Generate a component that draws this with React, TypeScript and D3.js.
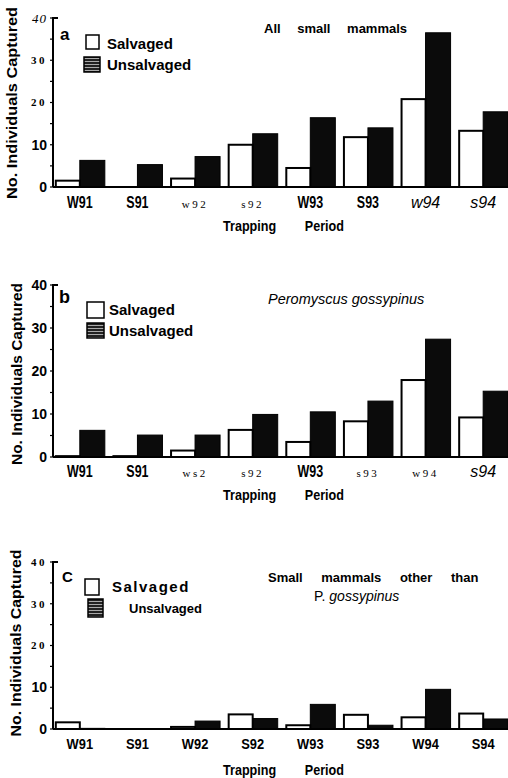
import React from 'react';
import * as d3 from 'd3';

// ─── data ───────────────────────────────────────────────────
const periodsA = ['W91', 'S91', 'w92', 's92', 'W93', 'S93', 'w94', 's94'];
const periodsB = ['W91', 'S91', 'ws2', 's92', 'W93', 's93', 'w94', 's94'];
const periodsC = ['W91', 'S91', 'W92', 'S92', 'W93', 'S93', 'W94', 'S94'];

const salvagedA = [1.5, 0, 2, 10, 4.5, 11.8, 20.8, 13.3];
const unsalvagedA = [6.3, 5.3, 7.2, 12.6, 16.4, 14, 36.5, 17.8];
const salvagedB = [0.2, 0.2, 1.5, 6.3, 3.5, 8.3, 17.9, 9.2];
const unsalvagedB = [6.2, 5.1, 5.1, 9.9, 10.5, 13, 27.4, 15.3];
const salvagedC = [1.6, 0, 0.5, 3.5, 0.9, 3.4, 2.8, 3.7];
const unsalvagedC = [0.15, 0, 1.9, 2.5, 5.9, 0.9, 9.5, 2.4];

const yTicks = [0, 10, 20, 30, 40];
const yMinorTicks = [5, 15, 25, 35];

// the scanned figure mixes typefaces label by label
const periodStyleA = ['b', 'b', 's', 's', 'b', 'b', 'i', 'i'];
const periodStyleB = ['b', 'b', 's', 's', 'b', 's', 's', 'i'];
const periodStyleC = ['c', 'c', 'c', 'c', 'c', 'c', 'c', 'c'];
const tickStyleA = ['b', 'b', 's', 's', 'si'];
const tickStyleB = ['b', 'b', 'b', 'b', 'b'];
const tickStyleC = ['b', 'b', 's', 's', 's'];

const SANS = '"Liberation Sans", Arial, Helvetica, sans-serif';
const SERIF = '"Liberation Serif", "DejaVu Serif", serif';

// font + horizontal squeeze for each label style
const fontFor = (k: string): { f: React.SVGProps<SVGTextElement>; sx: number } => {
  if (k === 'b') return { f: { fontFamily: SANS, fontWeight: 700, fontSize: 16 }, sx: 0.78 };
  if (k === 'c') return { f: { fontFamily: SANS, fontWeight: 700, fontSize: 14 }, sx: 0.92 };
  if (k === 's') return { f: { fontFamily: SERIF, fontWeight: 400, fontSize: 11, letterSpacing: 2.5 }, sx: 1 };
  if (k === 'si') return { f: { fontFamily: SERIF, fontStyle: 'italic', fontSize: 13, letterSpacing: 1 }, sx: 1 };
  return { f: { fontFamily: SANS, fontStyle: 'italic', fontSize: 16 }, sx: 1 };
};
const tickFont = (k: string): React.SVGProps<SVGTextElement> => {
  if (k === 'b') return { fontFamily: SANS, fontWeight: 700, fontSize: 14 };
  if (k === 's') return { fontFamily: SERIF, fontWeight: 700, fontSize: 11, letterSpacing: 2.5 };
  return { fontFamily: SERIF, fontStyle: 'italic', fontSize: 13, letterSpacing: 1 };
};

// ─── layout ────────────────────────────────────────────────
const xBand = d3.scaleBand<number>().domain(d3.range(8)).range([51, 512])
  .paddingInner(0.132).paddingOuter(0.066);
const xSub = d3.scaleBand<string>().domain(['s', 'u']).range([0, xBand.bandwidth()]);

interface PanelProps {
  periods: string[];
  salvaged: number[];
  unsalvaged: number[];
  periodStyle: string[];
  tickStyle: string[];
  y40: number;
  y0: number;
  labelY: number;
  trapY: number;
  letter: { t: string; x: number; y: number; size: number };
  box1: number[];
  txt1: number[];
  box2: number[];
  txt2: number[];
  salvSpacing?: number;
  unsalvSize?: number;
  yLab: { cx: number; cy: number; len: number };
  children?: React.ReactNode;
}

const Panel: React.FC<PanelProps> = (p) => {
  const y = d3.scaleLinear().domain([0, 40]).range([p.y0, p.y40]);
  const axisX = 53;
  return (
    <g>
      {/* bars */}
      {p.periods.map((_, i) => {
        const gx = xBand(i)!;
        const s = p.salvaged[i];
        const u = p.unsalvaged[i];
        return (
          <g key={i}>
            {u > 0 && (
              <rect x={gx + xSub('u')!} y={y(u)} width={xSub.bandwidth()}
                height={y(0) - y(u)} fill="#0b0b0b" stroke="#000" strokeWidth={1} />
            )}
            {s > 0 && (
              <rect x={gx + xSub('s')! + 1} y={y(s)} width={xSub.bandwidth() - 1}
                height={y(0) - y(s)} fill="#fff" stroke="#000" strokeWidth={2} />
            )}
          </g>
        );
      })}
      {/* axes */}
      <line x1={axisX} x2={508} y1={y(0)} y2={y(0)} stroke="#000" strokeWidth={2} />
      <path d={`M${axisX + 5},${y(40)}H${axisX}V${y(0)}`} fill="none" stroke="#000" strokeWidth={2} />
      {yTicks.concat(yMinorTicks).map((t) => (
        <line key={t} x1={axisX - 3} x2={axisX} y1={y(t)} y2={y(t)} stroke="#000" strokeWidth={1.2} />
      ))}
      {yTicks.map((t, i) => (
        <text key={t} x={47} y={y(t)} dy="0.36em" textAnchor="end" {...tickFont(p.tickStyle[i])}>
          {t}
        </text>
      ))}
      {p.periods.map((lab, i) => {
        const { f, sx } = fontFor(p.periodStyle[i]);
        return (
          <text key={lab + i} textAnchor="middle" {...f}
            transform={`translate(${xBand(i)! + xBand.bandwidth() / 2},${p.labelY}) scale(${sx},1)`}>
            {lab}
          </text>
        );
      })}
      <text transform={`translate(223,${p.trapY}) scale(0.9,1)`} fontFamily={SANS} fontWeight={700}
        fontSize={14} wordSpacing={28}>
        Trapping Period
      </text>
      {/* y label */}
      <text transform={`translate(${p.yLab.cx},${p.yLab.cy}) rotate(-90)`} textAnchor="middle"
        dy="0.35em" fontFamily={SANS} fontWeight={700} fontSize={15.5}
        textLength={p.yLab.len} lengthAdjust="spacingAndGlyphs">
        No. Individuals Captured
      </text>
      {/* panel letter */}
      <text x={p.letter.x} y={p.letter.y} fontFamily={SANS} fontWeight={700} fontSize={p.letter.size}>
        {p.letter.t}
      </text>
      {/* legend */}
      <rect x={p.box1[0]} y={p.box1[1]} width={p.box1[2]} height={p.box1[3]}
        fill="#fff" stroke="#000" strokeWidth={1.5} />
      <text x={p.txt1[0]} y={p.txt1[1]} fontFamily={SANS} fontWeight={700} fontSize={15}
        letterSpacing={p.salvSpacing ?? 0}>
        Salvaged
      </text>
      <rect x={p.box2[0]} y={p.box2[1]} width={p.box2[2]} height={p.box2[3]}
        fill="url(#stripes)" stroke="#000" strokeWidth={1.5} />
      <text x={p.txt2[0]} y={p.txt2[1]} fontFamily={SANS} fontWeight={700} fontSize={p.unsalvSize ?? 15}>
        Unsalvaged
      </text>
      {p.children}
    </g>
  );
};

export default function App() {
  return (
    <div style={{ position: 'absolute', left: 0, top: 0, background: '#fff' }}>
      <svg width={508} height={778} style={{ display: 'block' }}>
        <defs>
          <pattern id="stripes" width={4} height={3} patternUnits="userSpaceOnUse">
            <rect width={4} height={3} fill="#222" />
            <rect y={1} width={4} height={1} fill="#aaa" />
          </pattern>
        </defs>
        <rect width={508} height={778} fill="#fff" />

        <Panel periods={periodsA} salvaged={salvagedA} unsalvaged={unsalvagedA}
          periodStyle={periodStyleA} tickStyle={tickStyleA}
          y40={18} y0={187} labelY={208} trapY={231}
          letter={{ t: 'a', x: 60, y: 40, size: 17 }}
          box1={[86, 35, 13, 14]} txt1={[107, 49]} box2={[84, 57, 16, 15]} txt2={[107, 70]}
          yLab={{ cx: 12, cy: 103, len: 192 }}>
          <text x={264} y={33} fontFamily={SANS} fontWeight={700} fontSize={13} wordSpacing={13}>
            All small mammals
          </text>
        </Panel>

        <Panel periods={periodsB} salvaged={salvagedB} unsalvaged={unsalvagedB}
          periodStyle={periodStyleB} tickStyle={tickStyleB}
          y40={285} y0={457} labelY={477} trapY={500}
          letter={{ t: 'b', x: 59, y: 303, size: 18 }}
          box1={[87, 302, 17, 16]} txt1={[109, 315]} box2={[87, 323, 17, 15]} txt2={[109, 336]}
          yLab={{ cx: 17, cy: 374, len: 182 }}>
          <text x={268} y={304} fontFamily={SANS} fontStyle="italic" fontSize={14.5}>
            Peromyscus gossypinus
          </text>
        </Panel>

        <Panel periods={periodsC} salvaged={salvagedC} unsalvaged={unsalvagedC}
          periodStyle={periodStyleC} tickStyle={tickStyleC}
          y40={562} y0={729} labelY={749} trapY={775}
          letter={{ t: 'C', x: 62, y: 582, size: 15 }}
          box1={[85, 579, 14, 16]} txt1={[112, 592]} box2={[88, 599, 15, 18]} txt2={[129, 613]}
          salvSpacing={1.5} unsalvSize={13}
          yLab={{ cx: 16, cy: 643, len: 187 }}>
          <text x={268} y={582} fontFamily={SANS} fontWeight={700} fontSize={13} wordSpacing={15}>
            Small mammals other than
          </text>
          <text x={314} y={601} fontFamily={SANS} fontSize={14}>
            P. <tspan fontStyle="italic">gossypinus</tspan>
          </text>
        </Panel>
      </svg>
    </div>
  );
}
